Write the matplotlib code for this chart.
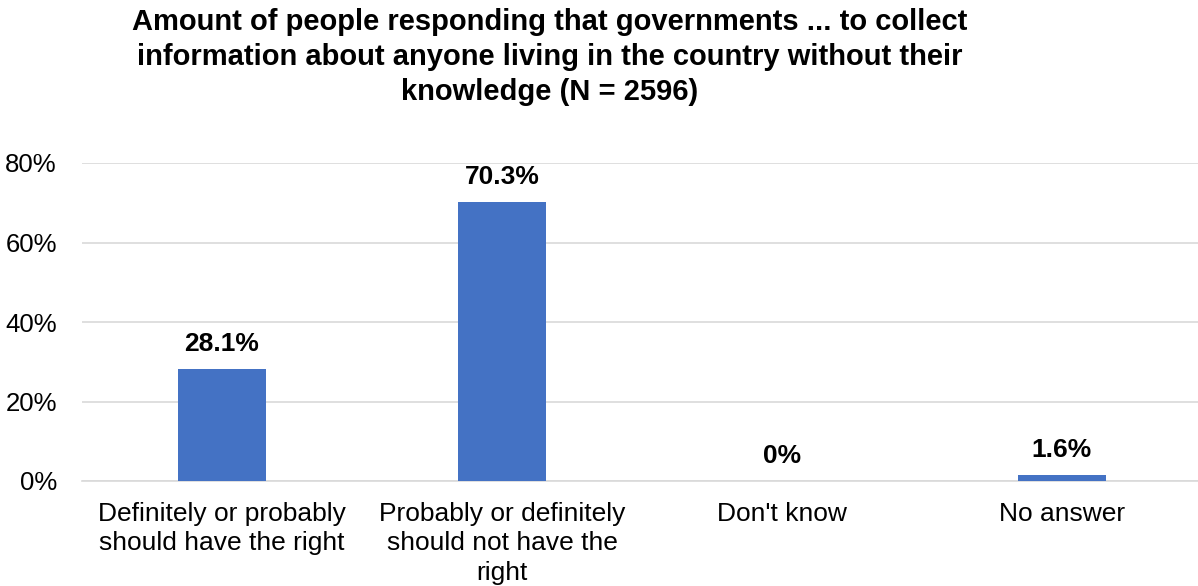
import matplotlib
matplotlib.use("Agg")
import matplotlib.pyplot as plt

plt.rcParams['font.family'] = ['Liberation Sans', 'DejaVu Sans']

categories = [
    "Definitely or probably\nshould have the right",
    "Probably or definitely\nshould not have the\nright",
    "Don't know",
    "No answer",
]
values = [28.1, 70.3, 0, 1.6]
value_labels = ["28.1%", "70.3%", "0%", "1.6%"]
yticks = [0, 20, 40, 60, 80]
title = ("Amount of people responding that governments ... to collect\n"
         "information about anyone living in the country without their\n"
         "knowledge (N = 2596)")

W, H = 1198, 586
fig = plt.figure(figsize=(W / 100, H / 100), dpi=100)
ax = fig.add_axes([82 / W, (H - 481) / H, 1116 / W, 318 / H])

x = list(range(len(categories)))
ax.bar(x, values, width=0.314, color="#4472C4", zorder=3)

ax.set_xlim(-0.5, 3.486)
ax.set_ylim(0, 80)
ax.set_yticks(yticks)
ax.set_yticklabels([f"{t}%" for t in yticks])
ax.set_xticks(x)
ax.set_xticklabels(categories, linespacing=1.29)
ax.tick_params(axis="y", length=0, pad=18, labelsize=18.5)
ax.tick_params(axis="x", length=0, pad=15, labelsize=19)
ax.grid(axis="y", color="#D9D9D9", linewidth=1.2, zorder=0)
for side in ["top", "right", "left"]:
    ax.spines[side].set_visible(False)
ax.spines["bottom"].set_color("#D9D9D9")
ax.spines["bottom"].set_linewidth(1.2)

for xi, v, lab in zip(x, values, value_labels):
    ax.annotate(lab, (xi, v), xytext=(0, 13), textcoords="offset points",
                ha="center", va="baseline", fontsize=19, fontweight="bold")

fig.text(550 / W, 1 - 7.5 / H, title, ha="center", va="top", fontsize=21,
         fontweight="bold", linespacing=1.32)

fig.savefig("out.png", dpi=100)
